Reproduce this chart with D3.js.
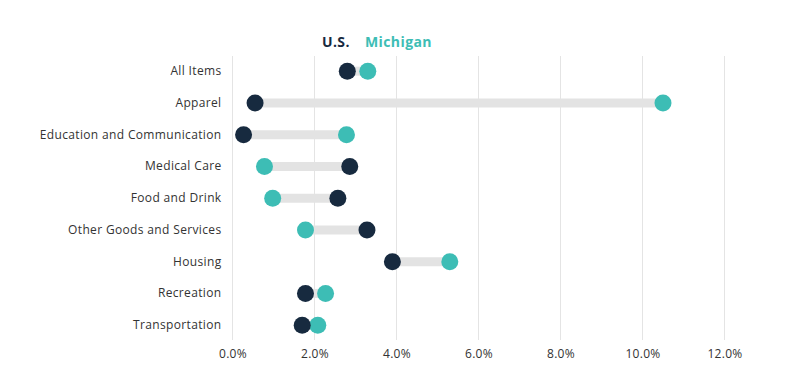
<!DOCTYPE html>
<html>
<head>
<meta charset="utf-8">
<script src="https://cdn.jsdelivr.net/npm/d3@7"></script>
<style>
  body { margin: 0; background: #fff; }
  text { font-family: "Open Sans", "Noto Sans", sans-serif; }
</style>
</head>
<body>
<div id="chart"></div>
<script>
// CPI change by category, US vs Michigan (%)
var categories = ["All Items", "Apparel", "Education and Communication", "Medical Care",
  "Food and Drink", "Other Goods and Services", "Housing", "Recreation", "Transportation"];
var usValues = [2.8, 0.55, 0.27, 2.86, 2.57, 3.28, 3.9, 1.78, 1.7];
var miValues = [3.3, 10.5, 2.78, 0.78, 0.98, 1.78, 5.3, 2.27, 2.08];
var xTicks = [0, 2, 4, 6, 8, 10, 12];

var width = 800, height = 377;
var margin = {left: 232.5, right: 75.5, top: 55.3, bottom: 36};

var navy = "#172a3f", teal = "#3dbdb5";

var svg = d3.select("#chart").append("svg")
  .attr("width", width).attr("height", height);

var x = d3.scaleLinear().domain([0, 12]).range([margin.left, width - margin.right]);
var y = d3.scaleBand().domain(categories)
  .range([margin.top, margin.top + 9 * 31.75]).paddingInner(0).paddingOuter(0);

// grid
svg.append("g").selectAll("line")
  .data(xTicks).enter().append("line")
  .attr("x1", d => x(d)).attr("x2", d => x(d))
  .attr("y1", 56).attr("y2", 340)
  .attr("stroke", "#e4e4e4").attr("stroke-width", 1);

// x axis labels
var xAxis = d3.axisBottom(x).tickValues(xTicks).tickFormat(d => d.toFixed(1) + "%").tickSize(0).tickPadding(9);
svg.append("g")
  .attr("transform", "translate(0,340)")
  .call(xAxis)
  .call(g => g.select(".domain").remove())
  .selectAll("text").attr("font-size", 12).attr("fill", "#333")
  .style("letter-spacing", "0.3px")
  .style("font-family", "'Open Sans', sans-serif");

// y axis labels
var yAxis = d3.axisLeft(y).tickSize(0).tickPadding(11);
svg.append("g")
  .attr("transform", "translate(" + margin.left + ",0)")
  .call(yAxis)
  .call(g => g.select(".domain").remove())
  .selectAll("text").attr("font-size", 12).attr("fill", "#333")
  .style("letter-spacing", "0.35px")
  .style("font-family", "'Open Sans', sans-serif");

var rows = categories.map((c, i) => ({cat: c, us: usValues[i], mi: miValues[i]}));
var cy = d => y(d.cat) + y.bandwidth() / 2;

// connecting bars
svg.append("g").selectAll("line")
  .data(rows).enter().append("line")
  .attr("x1", d => x(Math.min(d.us, d.mi)))
  .attr("x2", d => x(Math.max(d.us, d.mi)))
  .attr("y1", cy).attr("y2", cy)
  .attr("stroke", "#e3e3e3").attr("stroke-width", 9);

// dots
svg.append("g").selectAll("circle")
  .data(rows).enter().append("circle")
  .attr("cx", d => x(d.mi)).attr("cy", cy).attr("r", 8.5).attr("fill", teal);
svg.append("g").selectAll("circle")
  .data(rows).enter().append("circle")
  .attr("cx", d => x(d.us)).attr("cy", cy).attr("r", 8.5).attr("fill", navy);

// legend
var legend = svg.append("g").attr("font-size", 14).attr("font-weight", 700)
  .style("letter-spacing", "0.4px");
legend.append("text").attr("x", 322).attr("y", 47).attr("fill", navy).text("U.S.");
legend.append("text").attr("x", 365).attr("y", 47).attr("fill", teal).text("Michigan");
</script>
</body>
</html>
